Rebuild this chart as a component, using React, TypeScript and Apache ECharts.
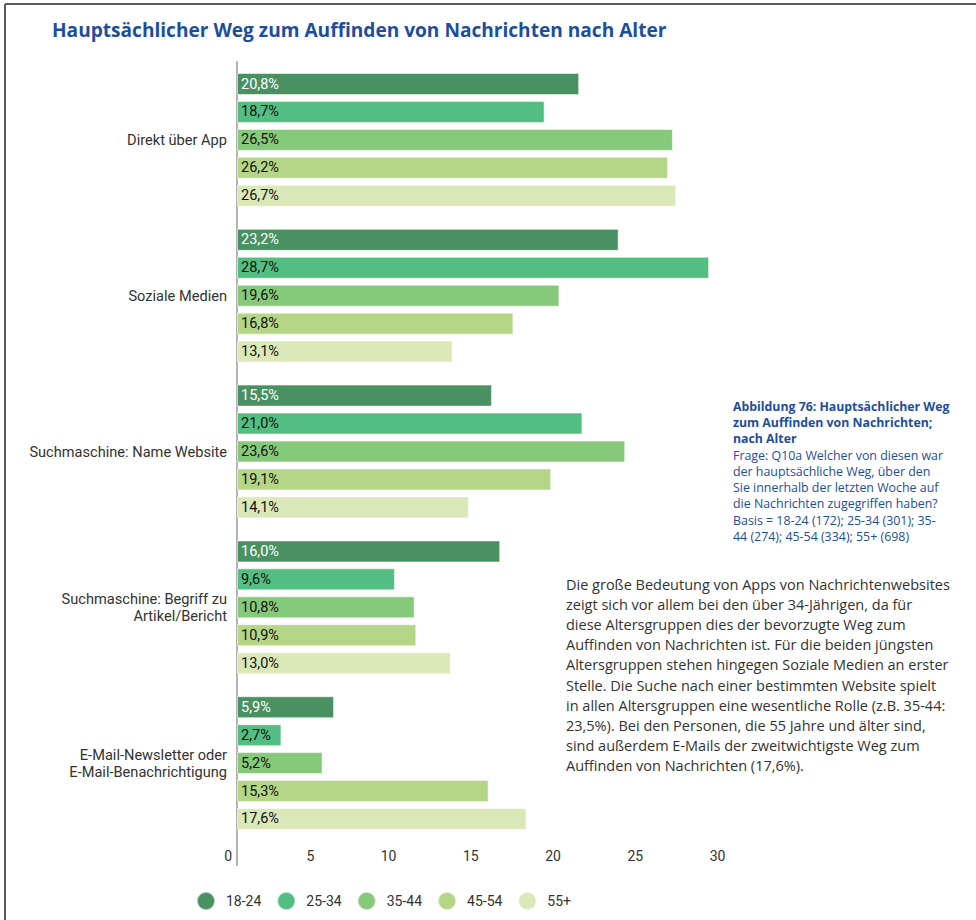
import React, { useEffect, useRef } from "react";
import * as echarts from "echarts";

const categories = [
  "Direkt über App",
  "Soziale Medien",
  "Suchmaschine: Name Website",
  "Suchmaschine: Begriff zu\nArtikel/Bericht",
  "E-Mail-Newsletter oder\nE-Mail-Benachrichtigung",
];
const ageGroups = ["18-24", "25-34", "35-44", "45-54", "55+"];
const s1824 = [20.8, 23.2, 15.5, 16.0, 5.9];
const s2534 = [18.7, 28.7, 21.0, 9.6, 2.7];
const s3544 = [26.5, 19.6, 23.6, 10.8, 5.2];
const s4554 = [26.2, 16.8, 19.1, 10.9, 15.3];
const s55 = [26.7, 13.1, 14.1, 13.0, 17.6];
const seriesValues = [s1824, s2534, s3544, s4554, s55];
const colors = ["#4a9162", "#54be82", "#86c97b", "#b4d686", "#dbe9b9"];
const labelColors = ["#ffffff", "#111111", "#111111", "#111111", "#111111"];
const xTicks = [0, 5, 10, 15, 20, 25, 30];

const title = "Hauptsächlicher Weg zum Auffinden von Nachrichten nach Alter";
const noteBold = [
  "Abbildung 76: Hauptsächlicher Weg",
  "zum Auffinden von Nachrichten;",
  "nach Alter",
];
const noteRegular = [
  "Frage: Q10a Welcher von diesen war",
  "der hauptsächliche Weg, über den",
  "Sie innerhalb der letzten Woche auf",
  "die Nachrichten zugegriffen haben?",
  "Basis = 18-24 (172); 25-34 (301); 35-",
  "44 (274); 45-54 (334); 55+ (698)",
];
const bodyText = [
  "Die große Bedeutung von Apps von Nachrichtenwebsites",
  "zeigt sich vor allem bei den über 34-Jährigen, da für",
  "diese Altersgruppen dies der bevorzugte Weg zum",
  "Auffinden von Nachrichten ist. Für die beiden jüngsten",
  "Altersgruppen stehen hingegen Soziale Medien an erster",
  "Stelle. Die Suche nach einer bestimmten Website spielt",
  "in allen Altersgruppen eine wesentliche Rolle (z.B. 35-44:",
  "23,5%). Bei den Personen, die 55 Jahre und älter sind,",
  "sind außerdem E-Mails der zweitwichtigste Weg zum",
  "Auffinden von Nachrichten (17,6%).",
];

const fmt = (v: number) => v.toFixed(1).replace(".", ",") + "%";

export default function App() {
  const ref = useRef<HTMLDivElement>(null);
  useEffect(() => {
    if (!ref.current) return;
    const chart = echarts.init(ref.current, null, { renderer: "svg" });
    const headFont = "'Open Sans', Lato, sans-serif";
    const axisFont = "Roboto, sans-serif";
    chart.setOption({
      animation: false,
      backgroundColor: "#ffffff",
      title: {
        text: title,
        left: 47,
        top: 15,
        textStyle: {
          fontFamily: headFont,
          fontWeight: "bold",
          fontSize: 19.1,
          color: "#1d4e9e",
        },
      },
      legend: {
        data: ageGroups,
        left: 191,
        top: 886,
        icon: "circle",
        itemWidth: 18,
        itemHeight: 18,
        itemGap: 15,
        textStyle: {
          fontFamily: axisFont,
          fontSize: 14,
          color: "#333333",
          padding: [0, 0, 0, 6],
        },
      },
      grid: {
        left: 237,
        top: 62,
        bottom: 79,
        right: 245.5,
        containLabel: false,
      },
      xAxis: {
        type: "value",
        min: 0,
        max: 30,
        interval: 5,
        axisLine: { show: false },
        axisTick: { show: false },
        splitLine: { show: false },
        axisLabel: {
          margin: 8,
          fontFamily: axisFont,
          fontSize: 14,
          color: "#333333",
          align: "right",
          padding: [0, 5, 0, 0],
          formatter: (v: number) => (xTicks.includes(v) ? String(v) : ""),
        },
      },
      yAxis: {
        type: "category",
        data: categories,
        inverse: true,
        axisLine: { show: true, lineStyle: { color: "#b3b3b3", width: 2 } },
        axisTick: { show: false },
        axisLabel: {
          margin: 10,
          fontFamily: axisFont,
          fontSize: 14.6,
          lineHeight: 17,
          color: "#333333",
          align: "right",
        },
      },
      series: ageGroups.map((g, i) => ({
        name: g,
        type: "bar",
        data: seriesValues[i],
        barWidth: 22,
        barGap: "27%",
        itemStyle: {
          color: colors[i],
          borderColor: "rgba(255,255,255,0.55)",
          borderWidth: 1,
        },
        label: {
          show: true,
          position: "insideLeft",
          distance: 4,
          formatter: (p: any) => fmt(p.value),
          fontFamily: axisFont,
          fontSize: 14.5,
          color: labelColors[i],
        },
      })),
      graphic: [
        {
          type: "line",
          shape: { x1: 5, y1: 4, x2: 976, y2: 4 },
          style: { stroke: "#5a5a5a", lineWidth: 2 },
        },
        {
          type: "line",
          shape: { x1: 5, y1: 4, x2: 5, y2: 920 },
          style: { stroke: "#5a5a5a", lineWidth: 2 },
        },
        {
          type: "line",
          shape: { x1: 237, y1: 841, x2: 237, y2: 866 },
          style: { stroke: "#b3b3b3", lineWidth: 2 },
        },
        {
          type: "text",
          x: 733,
          y: 398,
          style: {
            text: noteBold.join("\n"),
            fontFamily: headFont,
            fontWeight: "bold",
            fontSize: 12.3,
            lineHeight: 16.25,
            fill: "#1d4e9e",
          },
        },
        {
          type: "text",
          x: 733,
          y: 447,
          style: {
            text: noteRegular.join("\n"),
            fontFamily: headFont,
            fontSize: 12.4,
            lineHeight: 16.25,
            fill: "#1d4e9e",
          },
        },
        {
          type: "text",
          x: 566,
          y: 574,
          style: {
            text: bodyText.join("\n"),
            fontFamily: headFont,
            fontSize: 14.5,
            lineHeight: 20.2,
            fill: "#333333",
          },
        },
      ],
    });
    return () => chart.dispose();
  }, []);
  return (
    <div
      ref={ref}
      style={{ position: "absolute", left: 0, top: 0, width: 976, height: 920 }}
    />
  );
}
